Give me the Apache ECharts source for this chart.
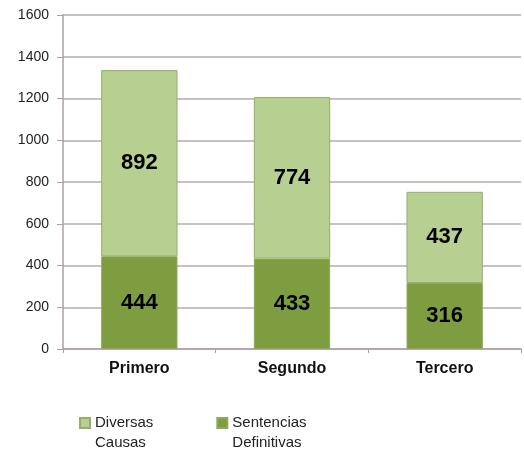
<!DOCTYPE html>
<html>
<head>
<meta charset="utf-8">
<script src="https://cdn.jsdelivr.net/npm/echarts@6/dist/echarts.min.js"></script>
<style>
  html, body { margin: 0; padding: 0; background: #ffffff; }
  #chart { width: 524px; height: 451px; }
</style>
</head>
<body>
<div id="chart"></div>
<script>
  // categorias y valores
  const categories = ['Primero', 'Segundo', 'Tercero'];
  const sentencias = [444, 433, 316];
  const diversas = [892, 774, 437];
  const yTicks = { min: 0, max: 1600, interval: 200 };

  const font = 'Liberation Sans, Arial, sans-serif';
  const chart = echarts.init(document.getElementById('chart'));
  const labelStyle = {
    show: true,
    position: 'inside',
    color: '#000',
    fontSize: 22,
    fontWeight: 'bold',
    fontFamily: font
  };
  const option = {
    animation: false,
    grid: { left: 63, right: 3, top: 15, bottom: 102 },
    legend: {
      top: 393,
      left: 79,
      padding: 0,
      itemGap: 63,
      itemWidth: 10,
      itemHeight: 10,
      icon: 'rect',
      // primera linea alineada con el cuadro
      formatter: name => '\n' + name.replace(' ', '\n'),
      textStyle: { fontSize: 15, color: '#222', fontFamily: font, lineHeight: 20 },
      data: ['Diversas Causas', 'Sentencias Definitivas']
    },
    xAxis: {
      type: 'category',
      data: categories,
      axisLine: { lineStyle: { color: '#a9a1a1', width: 1.5 } },
      axisTick: { show: true, length: 4, lineStyle: { color: '#a9a1a1' } },
      axisLabel: { color: '#111', fontSize: 16, fontWeight: 'bold', margin: 12, fontFamily: font }
    },
    yAxis: {
      type: 'value',
      min: yTicks.min,
      max: yTicks.max,
      interval: yTicks.interval,
      axisLine: { show: true, lineStyle: { color: '#a9a1a1', width: 1.5 } },
      axisTick: { show: true, length: 6, lineStyle: { color: '#a9a1a1' } },
      axisLabel: { color: '#222', fontSize: 14, margin: 14, fontFamily: font, formatter: v => String(v) },
      splitLine: { lineStyle: { color: '#b6acac', width: 1.5 } }
    },
    series: [
      {
        name: 'Sentencias Definitivas',
        type: 'bar',
        stack: 'total',
        barWidth: '50%',
        data: sentencias,
        itemStyle: { color: '#7e9d41', borderColor: '#8fa95a', borderWidth: 1 },
        label: labelStyle
      },
      {
        name: 'Diversas Causas',
        type: 'bar',
        stack: 'total',
        barWidth: '50%',
        data: diversas,
        itemStyle: { color: '#b8cf92', borderColor: '#94ae68', borderWidth: 1 },
        label: labelStyle
      }
    ]
  };
  chart.setOption(option);
</script>
</body>
</html>
